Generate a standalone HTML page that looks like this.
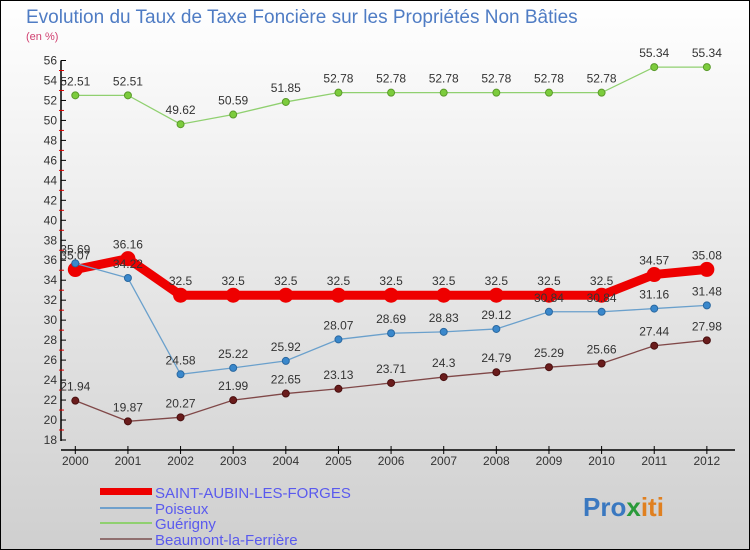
<!DOCTYPE html>
<html><head><meta charset="utf-8"><style>
body{margin:0;width:750px;height:550px;overflow:hidden;font-family:"Liberation Sans",sans-serif}
svg{display:block}
</style></head><body>
<svg id="c" width="750" height="550" xmlns="http://www.w3.org/2000/svg">
<defs><linearGradient id="bg" x1="0" y1="0" x2="0" y2="1"><stop offset="0" stop-color="#ffffff"/><stop offset="1" stop-color="#cfcfcf"/></linearGradient></defs>
<rect x="0.5" y="0.5" width="749" height="549" fill="url(#bg)" stroke="#000"/>
<text x="26" y="23" font-size="19" fill="#4f7cc4">Evolution du Taux de Taxe Foncière sur les Propriétés Non Bâties</text>
<text x="26" y="40" font-size="11" fill="#d04070">(en %)</text>
<g id="axes"></g><g id="series"></g>
<g font-size="15" fill="#5a5aee">
<rect x="100" y="488" width="52" height="7" fill="#ee0000"/>
<text x="155" y="498">SAINT-AUBIN-LES-FORGES</text>
<rect x="100" y="507" width="52" height="2" fill="#6fa0cc"/>
<text x="155" y="514">Poiseux</text>
<rect x="100" y="522" width="52" height="2" fill="#90d070"/>
<text x="155" y="529">Guérigny</text>
<rect x="100" y="538" width="52" height="2" fill="#907070"/>
<text x="155" y="545">Beaumont-la-Ferrière</text>
</g>
<g font-size="26" font-weight="bold">
<text x="583" y="516"><tspan fill="#3a78c0">Pro</tspan><tspan fill="#2a9a3a">x</tspan><tspan fill="#e08020">iti</tspan></text>
</g>
</svg>
<script>
const years=[2000,2001,2002,2003,2004,2005,2006,2007,2008,2009,2010,2011,2012];
const yTicks=[18,20,22,24,26,28,30,32,34,36,38,40,42,44,46,48,50,52,54,56];
const saintAubin=[35.07,36.16,32.5,32.5,32.5,32.5,32.5,32.5,32.5,32.5,32.5,34.57,35.08];
const poiseux=[35.69,34.22,24.58,25.22,25.92,28.07,28.69,28.83,29.12,30.84,30.84,31.16,31.48];
const guerigny=[52.51,52.51,49.62,50.59,51.85,52.78,52.78,52.78,52.78,52.78,52.78,55.34,55.34];
const beaumont=[21.94,19.87,20.27,21.99,22.65,23.13,23.71,24.3,24.79,25.29,25.66,27.44,27.98];
const NS="http://www.w3.org/2000/svg";
const X=i=>75.3+i*52.63;
const Y=v=>440-(v-18)*(379.5/38);
function mk(t,a,p){const e=document.createElementNS(NS,t);for(const k in a)e.setAttribute(k,a[k]);p.appendChild(e);return e;}
const ax=document.getElementById('axes');
let l=mk('line',{x1:61,y1:Y(56),x2:61,y2:Y(18)+1,stroke:'#000','stroke-width':1.5},ax);

l=mk('line',{x1:61,y1:450,x2:735,y2:450,stroke:'#000','stroke-width':1.5},ax);

yTicks.forEach(v=>{
 mk('line',{x1:61,y1:Y(v),x2:66,y2:Y(v),stroke:'#000'},ax);
 if(v<56)mk('line',{x1:59,y1:Y(v+1),x2:64,y2:Y(v+1),stroke:'#e00000'},ax);
 const t=mk('text',{x:57,y:Y(v)+4,'text-anchor':'end','font-size':12,fill:'#333'},ax);
 t.textContent=v;
 
 
});
years.forEach((y,i)=>{
 mk('line',{x1:X(i),y1:446,x2:X(i),y2:454,stroke:'#000'},ax);
 const t=mk('text',{x:X(i),y:465,'text-anchor':'middle','font-size':12,fill:'#333'},ax);
 t.textContent=y;
 
 
});
const sg=document.getElementById('series');
function series(name,vals,color,w,r,dot,stroke){
 const g=mk('g',{},sg);
 
 
 const p=mk('polyline',{points:vals.map((v,i)=>X(i)+','+Y(v)).join(' '),fill:'none',stroke:color,'stroke-width':w},g);
 
 
 vals.forEach((v,i)=>{
  const c=mk('circle',{cx:X(i),cy:Y(v),r:r,fill:dot,stroke:stroke,'stroke-width':1},g);
  
  
  const t=mk('text',{x:X(i),y:Y(v)-10,'text-anchor':'middle','font-size':12,fill:'#333'},g);
  t.textContent=v;
  
  
 });
}
series('guerigny-series',guerigny,'#90d070',1.3,3.5,'#7ccc3c','#5a9a2a');
series('beaumont-series',beaumont,'#804848',1.3,3.5,'#6a1c1c','#4a1010');
series('saint-aubin-series',saintAubin,'#ee0000',9,7,'#ee0000','#ee0000');
series('poiseux-series',poiseux,'#6aa0cc',1.3,3.5,'#3a88cc','#2a68a0');
</script>
</body></html>
